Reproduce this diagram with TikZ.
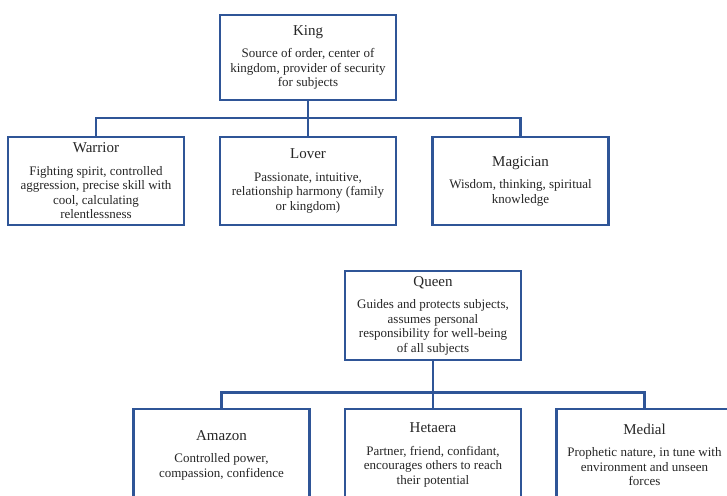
\documentclass[tikz,border=0pt]{standalone}
\usepackage{fontspec}
\setmainfont{Liberation Serif}
\definecolor{boxblue}{RGB}{47,85,151}
\begin{document}
\begin{tikzpicture}[x=1pt,y=-1pt,line join=miter,
	box/.style={draw=boxblue,line width=2.2pt,fill=white,text width=172pt,inner xsep=2pt,inner ysep=3pt,
		align=flush center,text=black!85,font=\fontsize{13}{14.5}\selectfont},
	link/.style={draw=boxblue,line width=2.2pt}]
	\def\ttl#1{{\fontsize{15}{16}\selectfont #1}\\[8pt]}
	\clip (0,0) rectangle (727,495);
	% upper tree
	\node[box,minimum height=85pt] (king) at (308,57.5)
		{\ttl{King}Source of order, center of\\kingdom, provider of security\\for subjects};
	\node[box,minimum height=88pt] (warrior) at (96,181)
		{\ttl{Warrior}Fighting spirit, controlled\\aggression, precise skill with\\cool, calculating\\relentlessness};
	\node[box,minimum height=88pt] (lover) at (308,181)
		{\ttl{Lover}Passionate, intuitive,\\relationship harmony (family\\or kingdom)};
	\node[box,minimum height=88pt] (magician) at (520.5,181)
		{\ttl{Magician}Wisdom, thinking, spiritual\\knowledge};
	\coordinate (kbus) at (308,118);
	\draw[link] (king.south) -- (lover.north);
	\draw[link] (warrior.north) |- (kbus) -| (magician.north);
	% lower tree
	\node[box,minimum height=89pt] (queen) at (433,315.5)
		{\ttl{Queen}Guides and protects subjects,\\assumes personal\\responsibility for well-being\\of all subjects};
	\node[box,minimum height=92pt] (amazon) at (221.5,455)
		{\ttl{Amazon}Controlled power,\\compassion, confidence};
	\node[box,minimum height=92pt] (hetaera) at (433,455)
		{\ttl{Hetaera}Partner, friend, confidant,\\encourages others to reach\\their potential};
	\node[box,minimum height=92pt] (medial) at (644.5,455)
		{\ttl{Medial}Prophetic nature, in tune with\\environment and unseen\\forces};
	\coordinate (qbus) at (433,392.5);
	\draw[link] (queen.south) -- (hetaera.north);
	\draw[link] (amazon.north) |- (qbus) -| (medial.north);
\end{tikzpicture}
\end{document}
